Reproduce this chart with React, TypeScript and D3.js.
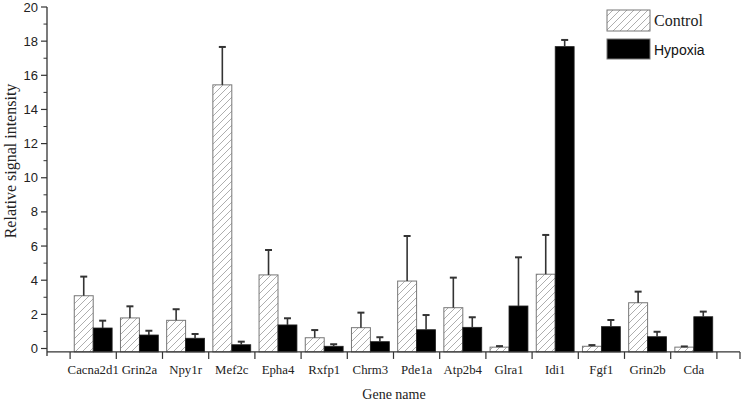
import React from 'react';
import * as d3 from 'd3';

// values
const genes = ['Cacna2d1', 'Grin2a', 'Npy1r', 'Mef2c', 'Epha4', 'Rxfp1', 'Chrm3', 'Pde1a', 'Atp2b4', 'Glra1', 'Idi1', 'Fgf1', 'Grin2b', 'Cda'];
const control = [3.09, 1.79, 1.65, 15.44, 4.31, 0.63, 1.22, 3.95, 2.39, 0.08, 4.35, 0.13, 2.68, 0.08];
const controlErr = [1.12, 0.68, 0.65, 2.22, 1.46, 0.45, 0.88, 2.64, 1.76, 0.06, 2.3, 0.07, 0.65, 0.04];
const hypoxia = [1.2, 0.79, 0.6, 0.22, 1.38, 0.13, 0.4, 1.1, 1.24, 2.49, 17.68, 1.28, 0.69, 1.86];
const hypoxiaErr = [0.43, 0.25, 0.25, 0.18, 0.39, 0.12, 0.26, 0.86, 0.59, 2.85, 0.39, 0.39, 0.29, 0.3];
const yTicks = [0, 2, 4, 6, 8, 10, 12, 14, 16, 18, 20];
const yMinor = [1, 3, 5, 7, 9, 11, 13, 15, 17, 19];

const W = 742;
const H = 403;
const serif = '"Liberation Serif", "Times New Roman", serif';
const sans = '"Liberation Sans", Arial, sans-serif';

export default function App() {
  const x = d3.scaleLinear().domain([0, 15]).range([47, 740]);
  const y = d3.scaleLinear().domain([0, 20]).range([348.5, 7]);
  const base = y(-0.2);
  const bw = x(0.41) - x(0);
  const errColor = '#333';

  const errBar = (cx: number, v: number, e: number, key: string) => (
    <g key={key} stroke={errColor} strokeWidth={1.6}>
      <line x1={cx} x2={cx} y1={y(v)} y2={y(v + e)} />
      <line x1={cx - 3.5} x2={cx + 3.5} y1={y(v + e)} y2={y(v + e)} strokeWidth={2} />
    </g>
  );

  return (
    <svg width={W} height={H} style={{ position: 'absolute', left: 0, top: 0, background: '#fff' }}>
      <defs>
        <pattern id="hatch" patternUnits="userSpaceOnUse" width={7} height={7}>
          <rect width={7} height={7} fill="#fff" />
          <path d="M-1,1 l2,-2 M0,7 l7,-7 M6,8 l2,-2" stroke="#999" strokeWidth={0.8} />
        </pattern>
      </defs>

      {/* bars */}
      {genes.map((g, i) => {
        const c = x(i + 1);
        return (
          <g key={g}>
            <rect x={c - bw} y={y(control[i])} width={bw} height={base - y(control[i])}
              fill="url(#hatch)" stroke="#777" strokeWidth={1} />
            <rect x={c} y={y(hypoxia[i])} width={bw} height={base - y(hypoxia[i])}
              fill="#000" stroke="#222" strokeWidth={0.8} />
            {errBar(c - bw / 2, control[i], controlErr[i], 'ce')}
            {errBar(c + bw / 2, hypoxia[i], hypoxiaErr[i], 'he')}
          </g>
        );
      })}

      {/* y axis */}
      <line x1={x(0)} x2={x(0)} y1={y(20)} y2={base + 4} stroke="#333" strokeWidth={1.3} />
      {yTicks.map((t) => (
        <g key={t}>
          <line x1={x(0) - 6} x2={x(0)} y1={y(t)} y2={y(t)} stroke="#333" strokeWidth={1.2} />
          <text x={38} y={y(t)} dy="0.35em" textAnchor="end" fontFamily={sans} fontSize={13} fill="#222">{t}</text>
        </g>
      ))}
      {yMinor.map((t) => (
        <line key={t} x1={x(0) - 3.5} x2={x(0)} y1={y(t)} y2={y(t)} stroke="#333" strokeWidth={1} />
      ))}

      {/* x axis */}
      <line x1={x(0)} x2={x(15)} y1={base} y2={base} stroke="#333" strokeWidth={1.3} />
      {d3.range(0.5, 15, 1).map((t) => (
        <line key={t} x1={x(t)} x2={x(t)} y1={base} y2={base + 7} stroke="#333" strokeWidth={1.2} />
      ))}
      <line x1={x(15)} x2={x(15)} y1={base} y2={base + 7} stroke="#333" strokeWidth={1.2} />
      {genes.map((g, i) => (
        <text key={g} x={x(i + 1)} y={374} textAnchor="middle" fontFamily={serif} fontSize={12.8} fill="#222">{g}</text>
      ))}

      <text x={394} y={399} textAnchor="middle" fontFamily={serif} fontSize={14} fill="#222">Gene name</text>
      <text transform="translate(10, 161) rotate(-90)" dy="0.35em" textAnchor="middle"
        fontFamily={serif} fontSize={16} fill="#222">Relative signal intensity</text>

      {/* legend */}
      <rect x={607} y={10} width={43} height={21} fill="url(#hatch)" stroke="#777" strokeWidth={1} />
      <text x={654} y={26} fontFamily={serif} fontSize={16} fill="#222">Control</text>
      <rect x={607} y={39} width={43} height={20} fill="#000" stroke="#777" strokeWidth={1} />
      <text x={654} y={55} fontFamily={sans} fontSize={14} fill="#111">Hypoxia</text>
    </svg>
  );
}
